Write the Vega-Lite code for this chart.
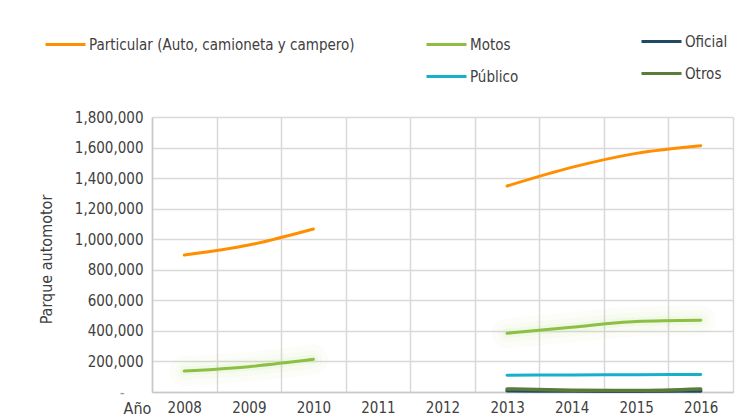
{
  "$schema": "https://vega.github.io/schema/vega-lite/v6.json",
  "width": 581,
  "height": 275,
  "autosize": {"type": "none"},
  "padding": {"left": 152, "top": 117, "right": 6, "bottom": 27},
  "background": "white",
  "config": {
    "view": {"stroke": null},
    "font": "DejaVu Sans Condensed, Roboto, sans-serif",
    "legend": {
      "symbolType": "stroke",
      "symbolSize": 1600,
      "symbolStrokeWidth": 3,
      "labelFontSize": 15,
      "labelColor": "#404040",
      "labelOffset": 2,
      "labelLimit": 400,
      "padding": 0,
      "rowPadding": 2,
      "labelFont": "DejaVu Sans Condensed, Roboto, sans-serif"
    }
  },
  "data": {
    "values": [
      {"serie": "Particular (Auto, camioneta y campero)", "anio": 2008, "valor": 897000, "tramo": 1},
      {"serie": "Particular (Auto, camioneta y campero)", "anio": 2009, "valor": 962000, "tramo": 1},
      {"serie": "Particular (Auto, camioneta y campero)", "anio": 2010, "valor": 1067000, "tramo": 1},
      {"serie": "Particular (Auto, camioneta y campero)", "anio": 2013, "valor": 1348000, "tramo": 2},
      {"serie": "Particular (Auto, camioneta y campero)", "anio": 2014, "valor": 1470000, "tramo": 2},
      {"serie": "Particular (Auto, camioneta y campero)", "anio": 2015, "valor": 1562000, "tramo": 2},
      {"serie": "Particular (Auto, camioneta y campero)", "anio": 2016, "valor": 1612000, "tramo": 2},
      {"serie": "Motos", "anio": 2008, "valor": 137000, "tramo": 1},
      {"serie": "Motos", "anio": 2009, "valor": 166000, "tramo": 1},
      {"serie": "Motos", "anio": 2010, "valor": 214000, "tramo": 1},
      {"serie": "Motos", "anio": 2013, "valor": 384000, "tramo": 2},
      {"serie": "Motos", "anio": 2014, "valor": 424000, "tramo": 2},
      {"serie": "Motos", "anio": 2015, "valor": 461000, "tramo": 2},
      {"serie": "Motos", "anio": 2016, "valor": 469000, "tramo": 2},
      {"serie": "Público", "anio": 2013, "valor": 110000, "tramo": 2},
      {"serie": "Público", "anio": 2014, "valor": 112000, "tramo": 2},
      {"serie": "Público", "anio": 2015, "valor": 113000, "tramo": 2},
      {"serie": "Público", "anio": 2016, "valor": 115000, "tramo": 2},
      {"serie": "Oficial", "anio": 2013, "valor": 8000, "tramo": 2},
      {"serie": "Oficial", "anio": 2014, "valor": 6000, "tramo": 2},
      {"serie": "Oficial", "anio": 2015, "valor": 5000, "tramo": 2},
      {"serie": "Oficial", "anio": 2016, "valor": 7000, "tramo": 2},
      {"serie": "Otros", "anio": 2013, "valor": 20000, "tramo": 2},
      {"serie": "Otros", "anio": 2014, "valor": 12000, "tramo": 2},
      {"serie": "Otros", "anio": 2015, "valor": 10000, "tramo": 2},
      {"serie": "Otros", "anio": 2016, "valor": 20000, "tramo": 2}
    ]
  },
  "encoding": {
    "x": {
      "field": "anio",
      "type": "ordinal",
      "scale": {"type": "band", "domain": [2008, 2009, 2010, 2011, 2012, 2013, 2014, 2015, 2016], "paddingInner": 0, "paddingOuter": 0},
      "axis": {
        "title": "Año",
        "titleX": -15,
        "titleY": 16,
        "titleAlign": "center",
        "titleBaseline": "middle",
        "titleFontWeight": "normal",
        "titleFontSize": 16,
        "titleColor": "#404040",
        "labelAngle": 0,
        "labelPadding": 8,
        "labelFontSize": 15,
        "labelColor": "#404040",
        "tickBand": "extent",
        "ticks": false,
        "grid": true,
        "gridColor": "#d9d9d9",
        "gridWidth": 1.5,
        "domainColor": "#c8c8c8",
        "domainWidth": 1.5
      }
    },
    "y": {
      "field": "valor",
      "type": "quantitative",
      "scale": {"domain": [0, 1800000], "nice": false},
      "axis": {
        "title": "Parque automotor",
        "titleX": -106,
        "titleY": 142,
        "titleAngle": -90,
        "titleAlign": "center",
        "titleBaseline": "middle",
        "titleFontWeight": "normal",
        "titleFontSize": 16,
        "titleColor": "#404040",
        "values": [0, 200000, 400000, 600000, 800000, 1000000, 1200000, 1400000, 1600000, 1800000],
        "labelExpr": "datum.value === 0 ? '-' : format(datum.value, ',')",
        "labelFontSize": 15,
        "labelColor": {"condition": {"test": "datum.value === 0", "value": "#9a9a9a"}, "value": "#404040"},
        "labelPadding": {"condition": {"test": "datum.value === 0", "value": 28}, "value": 9},
        "ticks": false,
        "grid": true,
        "gridColor": "#d9d9d9",
        "gridWidth": 1.5,
        "domainColor": "#c8c8c8",
        "domainWidth": 1.5
      }
    }
  },
  "layer": [
    {
      "transform": [{"filter": "datum.serie === 'Particular (Auto, camioneta y campero)'"}],
      "mark": {"type": "line", "strokeWidth": 3, "interpolate": "monotone", "strokeCap": "round"},
      "encoding": {
        "detail": {"field": "tramo"},
        "color": {
          "field": "serie",
          "type": "nominal",
          "scale": {"domain": ["Particular (Auto, camioneta y campero)"], "range": ["#FF8F00"]},
          "legend": {"title": null, "orient": "none", "legendX": -108, "legendY": -94}
        }
      }
    },
    {
      "transform": [{"filter": "datum.serie === 'Motos'"}],
      "mark": {"type": "line", "strokeWidth": 30, "opacity": 0.05, "interpolate": "monotone", "strokeCap": "round", "color": "#BFE08A"},
      "encoding": {"detail": {"field": "tramo"}}
    },
    {
      "transform": [{"filter": "datum.serie === 'Motos'"}],
      "mark": {"type": "line", "strokeWidth": 18, "opacity": 0.07, "interpolate": "monotone", "strokeCap": "round", "color": "#BFE08A"},
      "encoding": {"detail": {"field": "tramo"}}
    },
    {
      "transform": [{"filter": "datum.serie === 'Motos'"}],
      "mark": {"type": "line", "strokeWidth": 9, "opacity": 0.1, "interpolate": "monotone", "strokeCap": "round", "color": "#BFE08A"},
      "encoding": {"detail": {"field": "tramo"}}
    },
    {
      "transform": [{"filter": "datum.serie === 'Motos' || datum.serie === 'Público'"}],
      "mark": {"type": "line", "strokeWidth": 3, "interpolate": "monotone", "strokeCap": "round"},
      "encoding": {
        "detail": {"field": "tramo"},
        "color": {
          "field": "serie",
          "type": "nominal",
          "scale": {"domain": ["Motos", "Público"], "range": ["#8CBF44", "#16B0CC"]},
          "legend": {"title": null, "orient": "none", "legendX": 273, "legendY": -94}
        }
      }
    },
    {
      "transform": [{"filter": "datum.serie === 'Oficial' || datum.serie === 'Otros'"}],
      "mark": {"type": "line", "strokeWidth": 3.5, "interpolate": "monotone", "strokeCap": "round"},
      "encoding": {
        "detail": {"field": "tramo"},
        "color": {
          "field": "serie",
          "type": "nominal",
          "scale": {"domain": ["Oficial", "Otros"], "range": ["#1F4A66", "#5B7B38"]},
          "legend": {"title": null, "orient": "none", "legendX": 488, "legendY": -97}
        }
      }
    }
  ],
  "resolve": {"scale": {"color": "independent"}, "legend": {"color": "independent"}}
}
